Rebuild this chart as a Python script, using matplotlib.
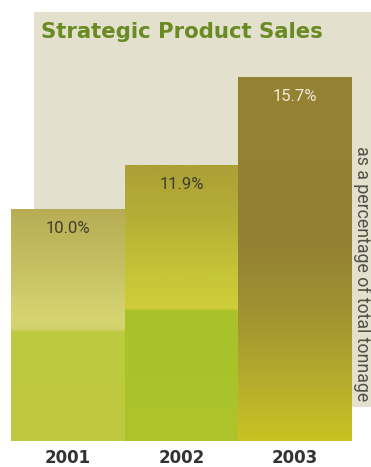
import numpy as np
import matplotlib
matplotlib.use("Agg")
import matplotlib.pyplot as plt
from matplotlib.colors import LinearSegmentedColormap
from matplotlib.patches import Rectangle

# data
years = ["2001", "2002", "2003"]
share = [10.0, 11.9, 15.7]
labels = ["10.0%", "11.9%", "15.7%"]

# vertical colour stops per bar, (fraction of bar height from bottom, colour)
stops = [
    [(0.0, "#bfca40"), (0.472, "#bdc93f"), (0.48, "#d2d26c"), (0.53, "#d6d571"),
     (0.75, "#c6c063"), (1.0, "#b8ad55")],
    [(0.0, "#adc42b"), (0.472, "#a9c22a"), (0.48, "#cfcd38"), (0.6, "#c7c538"),
     (0.8, "#b6b036"), (1.0, "#aca036")],
    [(0.0, "#c9c322"), (0.15, "#b8ae2c"), (0.35, "#a09332"), (0.55, "#948032"),
     (1.0, "#958233")],
]
label_colors = ["#3f3d30", "#3f3d30", "#efeadb"]

fig = plt.figure(figsize=(3.71, 4.67), dpi=100)
W, H = 371, 467

# beige backing panel
fig.patches.append(Rectangle((34 / W, 1 - 407 / H), 1 - 34 / W, (407 - 12) / H,
                             transform=fig.transFigure, facecolor="#e3e0cd",
                             edgecolor="none", zorder=0))

ax = fig.add_axes([11 / W, 1 - 441 / H, (352 - 11) / W, (441 - 77) / H], zorder=2)
ax.patch.set_alpha(0)
for s in ax.spines.values():
    s.set_visible(False)

x = np.arange(len(years))
bars = ax.bar(x, share, width=1.0, color="none", edgecolor="none")

for b, st in zip(bars, stops):
    cmap = LinearSegmentedColormap.from_list("g", st)
    grad = np.linspace(0, 1, 256).reshape(-1, 1)
    im = ax.imshow(grad, cmap=cmap, origin="lower", aspect="auto",
                   extent=(b.get_x(), b.get_x() + b.get_width(), 0, b.get_height()),
                   interpolation="bilinear")
    im.set_clip_path(b)

ax.set_xlim(-0.5, len(years) - 0.5)
ax.set_ylim(0, max(share))

for xi, v, lab, c in zip(x, share, labels, label_colors):
    ax.annotate(lab, (xi, v), xytext=(0, -14), textcoords="offset points",
                ha="center", va="center", fontsize=12, color=c,
                family="Roboto")

ax.set_xticks(x)
ax.set_xticklabels(years, fontsize=12, weight="bold", color="#333333",
                   family="DejaVu Sans")
ax.tick_params(axis="x", length=0, pad=6)
ax.set_yticks([])

fig.text(41 / W, 1 - 32 / H, "Strategic Product Sales", fontsize=15.3,
         weight="bold", color="#6a8a22", family="DejaVu Sans",
         ha="left", va="center")
fig.text(362 / W, 1 - 274 / H, "as a percentage of total tonnage",
         rotation=-90, fontsize=12.8, color="#4f4f46", family="Roboto",
         ha="center", va="center")

fig.savefig("out.png", dpi=100)
